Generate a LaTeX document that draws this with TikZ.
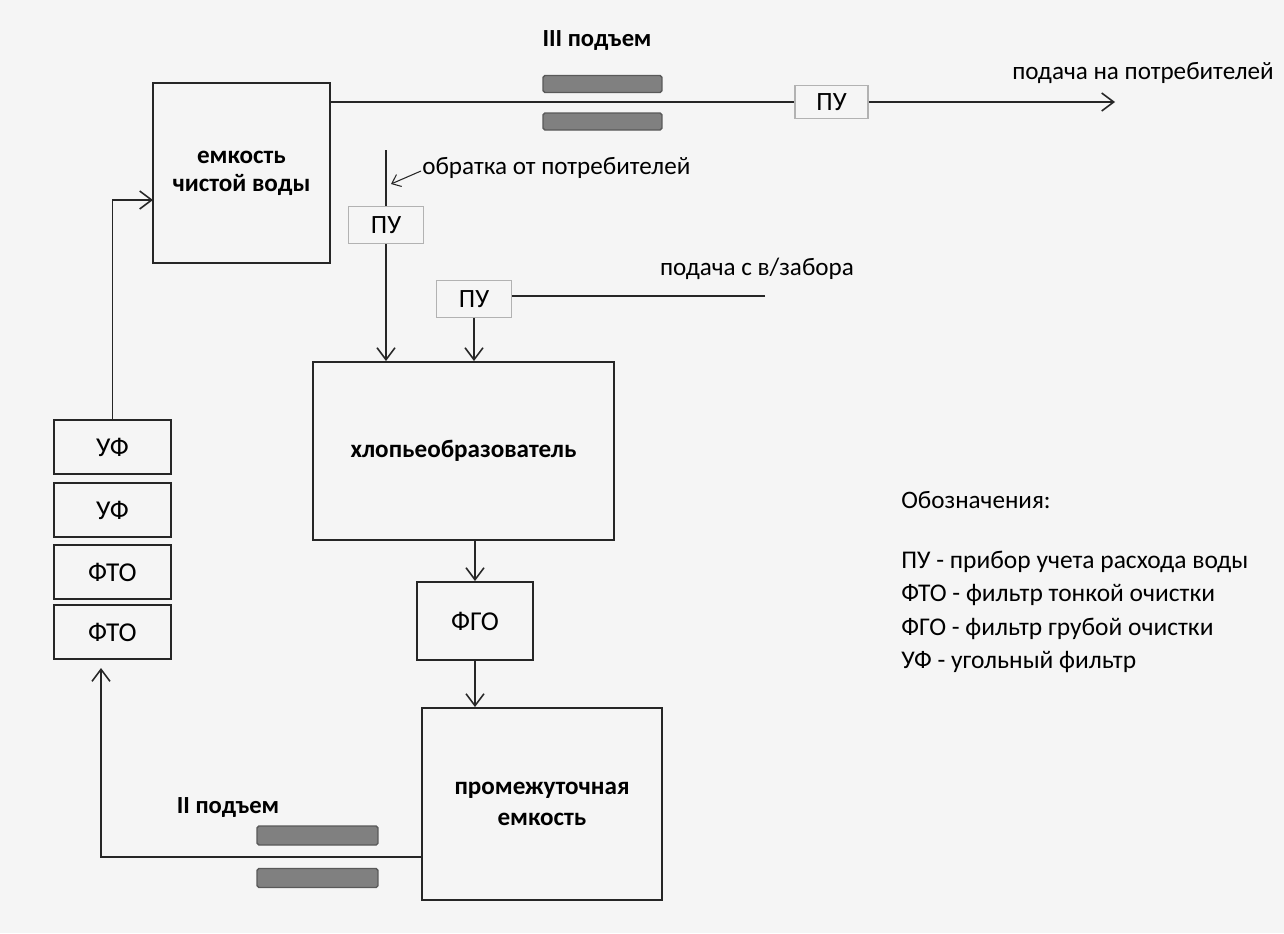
\documentclass[tikz,border=0pt]{standalone}
\usepackage{fontspec}
\setmainfont{Carlito}
\usetikzlibrary{arrows.meta,positioning,calc}

\tikzset{
  box/.style={draw=black!85,line width=1.1pt,align=center,font=\fontsize{14.3}{18}\selectfont\bfseries},
  filt/.style={draw=black!85,line width=1.1pt,font=\fontsize{15.5}{18}\selectfont,minimum width=2.34cm,minimum height=1.08cm},
  pubox/.style={draw=black!30,line width=1pt,minimum width=1.5cm,minimum height=0.74cm,font=\fontsize{15}{18}\selectfont},
  pump/.style={draw=black!65,fill=black!50,line width=0.8pt,rounded corners=1pt,minimum height=0.34cm},
  flow/.style={line width=0.9pt,draw=black!85},
  lift/.style={font=\fontsize{14}{17}\selectfont\bfseries},
}

\begin{document}
\begin{tikzpicture}[x=0.02cm,y=-0.02cm,>={Straight Barb[length=2.4mm,width=3.6mm]},font=\fontsize{14.3}{17}\selectfont]
\fill[black!4] (0,0) rectangle (1284,933);
\useasboundingbox (0,0) rectangle (1284,933);

% tanks and filters
\node[box,font=\fontsize{14.3}{15}\selectfont\bfseries,minimum width=3.54cm,minimum height=3.6cm] (tank) at (241.5,173) {емкость\\[1pt]чистой воды};
\node[box,minimum width=6.02cm,minimum height=3.56cm] (floc) at (463.5,451) {хлопьеобразователь};
\node[filt,minimum width=2.32cm,minimum height=1.56cm] (fgo) at (475,621) {ФГО};
\node[box,minimum width=4.8cm,minimum height=3.84cm] (mid) at (542,804) {промежуточная\\емкость};

\node[filt] (uf1) at (112.5,447) {УФ};
\node[filt] (uf2) at (112.5,510) {УФ};
\node[filt] (fto1) at (112.5,572) {ФТО};
\node[filt] (fto2) at (112.5,632) {ФТО};

% meters
\node[pubox,minimum width=1.46cm,minimum height=0.66cm] (puTop) at (831.5,102) {ПУ};
\node[pubox] (puRet) at (386,225) {ПУ};
\node[pubox] (puIn) at (474,299) {ПУ};

% pumps
\node[pump,minimum width=2.38cm] (p3a) at (602.5,84) {};
\node[pump,minimum width=2.38cm] (p3b) at (602.5,121.5) {};
\node[pump,minimum width=2.42cm,minimum height=0.38cm] (p2a) at (317.5,835.5) {};
\node[pump,minimum width=2.42cm,minimum height=0.38cm] (p2b) at (317.5,878) {};

% labels
\node[lift] (lblIII) at (597,41) {III подъем};
\node[lift] (lblII) at (228,807) {II подъем};
\node (lblOut) at (1143,73) {подача на потребителей};
\node[anchor=west,inner sep=0pt] (lblRet) at (422,168) {обратка от потребителей};
\node (lblIn) at (757,269) {подача с в/забора};
\node[anchor=west,inner sep=0pt] (legHead) at (901,500) {Обозначения:};
\node[anchor=west,inner sep=0pt,align=left,font=\fontsize{14.5}{19.1}\selectfont] (legend) at (901,612)
  {ПУ - прибор учета расхода воды\\ФТО - фильтр тонкой очистки\\ФГО - фильтр грубой очистки\\УФ - угольный фильтр};

% free ends
\coordinate (outEnd) at (1115,102);
\coordinate (retTop) at (386,150);
\coordinate (retHit) at (391,184);
\coordinate (inSrc) at (765,296);
\coordinate (midOut) at (422,857);
\coordinate (ftoIn) at (101,668);
\coordinate (tankIn) at (153,200);

% connectors
\draw[flow] (puTop.west -| tank.east) -- (puTop.west);
\draw[flow,->] (puTop.east) -- (outEnd);
\draw[flow] (retTop) -- (puRet.north);
\draw[flow,->] (puRet.south) -- (puRet.south |- floc.north);
\draw[flow,->,line width=0.6pt,>={Straight Barb[length=1.6mm,width=2.6mm]}] ([shift={(-1,3)}]lblRet.west) -- (retHit);
\draw[flow] (inSrc) -- (puIn.east |- inSrc);
\draw[flow,->] (puIn.south) -- (puIn.south |- floc.north);
\draw[flow,->] (fgo.north |- floc.south) -- (fgo.north);
\draw[flow,->] (fgo.south) -- (fgo.south |- mid.north);
\draw[flow,->] (midOut) -| (ftoIn);
\draw[flow,->] (uf1.north) |- (tankIn);
\end{tikzpicture}
\end{document}
